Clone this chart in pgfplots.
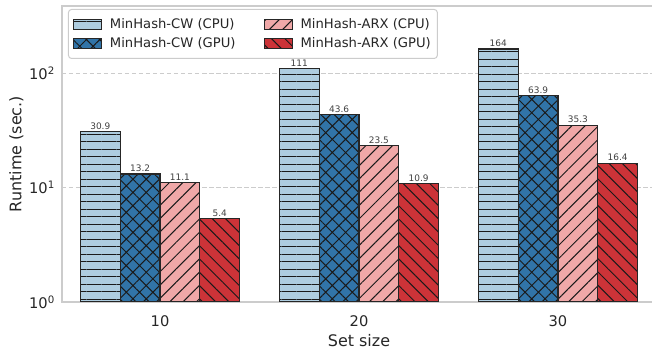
\documentclass[border=0pt]{standalone}
\usepackage{pgfplots}
\pgfplotsset{compat=1.18}
\usepackage{fontspec}
\setmainfont{DejaVu Sans}
\usetikzlibrary{patterns.meta,calc}

\definecolor{cwcpu}{HTML}{AECDE0}
\definecolor{cwgpu}{HTML}{3174A8}
\definecolor{arxcpu}{HTML}{F0A8A8}
\definecolor{arxgpu}{HTML}{CC3338}
\definecolor{spine}{HTML}{CCCCCC}
\definecolor{hatch}{HTML}{1A1A1A}
\definecolor{lbl}{HTML}{404040}

\begin{document}
\begin{tikzpicture}
\begin{axis}[
  scale only axis, width=594bp, height=296bp,
  xmin=-0.4925, xmax=2.4925,
  ymode=log, ymin=1, ymax=390,
  ybar, bar width=0.2,
  xtick={0,1,2}, xticklabels={10,20,30},
  ytick={1,10,100},
  yticklabels={10\textsuperscript{0},10\textsuperscript{1},10\textsuperscript{2}},
  minor ytick={}, minor xtick={},
  major tick length=0pt, minor tick length=0pt,
  tick label style={font=\fontsize{14.7}{17}\selectfont, text=black!85},
  xticklabel style={inner sep=0pt, anchor=north, yshift=-13bp},
  yticklabel style={inner sep=0pt, anchor=east, xshift=-7bp},
  axis line style={spine, line width=1.25bp},
  ymajorgrids,
  major grid style={spine, line width=1bp, dash pattern=on 4.5bp off 2.5bp},
  xlabel={Set size}, ylabel={Runtime (sec.)},
  label style={font=\fontsize{16}{19}\selectfont, text=black!85},
  xlabel style={at={(axis description cs:0.5,-0.1503)}, anchor=base},
  ylabel style={at={(axis description cs:-0.0769,0.5)}, anchor=center},
  legend columns=2, legend cell align=left,
  legend style={at={(axis description cs:0,1)}, anchor=north west,
    xshift=6bp, yshift=-3bp, draw=spine, line width=1bp, rounded corners=3bp,
    fill=white, font=\fontsize{13.2}{15}\selectfont, text=black!85,
    inner xsep=4.5bp, inner ysep=7bp, row sep=4bp,
    /tikz/every odd column/.append style={column sep=6bp},
    /tikz/every even column/.append style={column sep=26bp}},
  every axis plot post/.append style={
    legend image code/.code={\draw[##1, sharp corners, line width=1bp] (0bp,-5bp) rectangle (28bp,5bp);}},
  nodes near coords, point meta=explicit symbolic,
  every node near coord/.append style={font=\fontsize{9}{10}\selectfont, text=lbl, anchor=south, inner sep=1.5bp},
]
\addplot[draw=black!85, line width=1.2bp, fill=cwcpu, bar shift=-0.3,
  postaction={pattern={Lines[angle=0,distance=7.5bp,line width=1bp]}, pattern color=hatch}]
  coordinates {(0,30.9) [30.9] (1,111) [111] (2,164) [164]};
\addlegendentry{MinHash-CW (CPU)}
\addplot[draw=black!85, line width=1.2bp, fill=arxcpu, bar shift=0.1,
  postaction={pattern={Lines[angle=45,distance=9.4bp,line width=1bp]}, pattern color=hatch}]
  coordinates {(0,11.1) [11.1] (1,23.5) [23.5] (2,35.3) [35.3]};
\addlegendentry{MinHash-ARX (CPU)}
\addplot[draw=black!85, line width=1.2bp, fill=cwgpu, bar shift=-0.1,
  postaction={pattern={Hatch[angle=45,distance=9.4bp,line width=1bp]}, pattern color=hatch}]
  coordinates {(0,13.2) [13.2] (1,43.6) [43.6] (2,63.9) [63.9]};
\addlegendentry{MinHash-CW (GPU)}
\addplot[draw=black!85, line width=1.2bp, fill=arxgpu, bar shift=0.3,
  postaction={pattern={Lines[angle=-45,distance=9.4bp,line width=1bp]}, pattern color=hatch}]
  coordinates {(0,5.4) [5.4] (1,10.9) [10.9] (2,16.4) [16.4]};
\addlegendentry{MinHash-ARX (GPU)}
\coordinate (sw) at (rel axis cs:0,0);
\coordinate (nw) at (rel axis cs:0,1);
\end{axis}
\pgfresetboundingbox
\path[use as bounding box] ($(sw)+(-62bp,-50bp)$) rectangle ($(nw)+(590bp,6bp)$);
\end{tikzpicture}
\end{document}
